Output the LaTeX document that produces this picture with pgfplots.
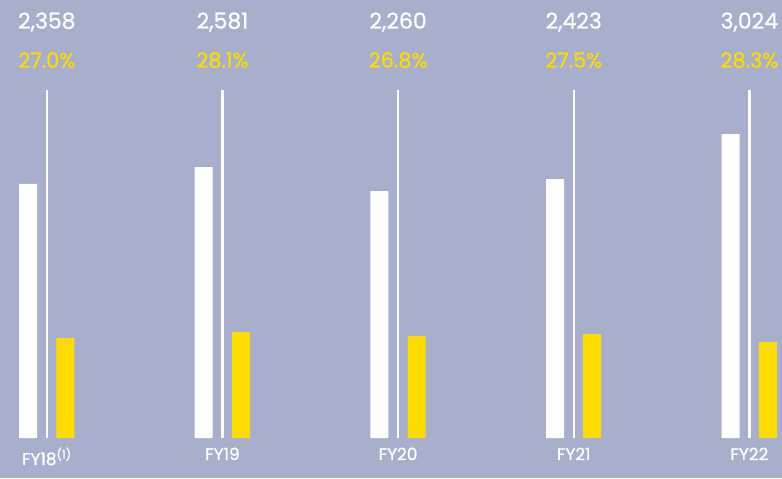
\documentclass[border=0pt]{standalone}
\usepackage{pgfplots}
\pgfplotsset{compat=1.18}
\usepackage{pgfplotstable}
\usepackage{fontspec}
\setmainfont{Poppins}[FakeBold=0.9]

\definecolor{bgblue}{HTML}{A7AFCD}
\definecolor{eyyellow}{HTML}{FFDC00}

% revenue (white bars) and margin labels; the yellow bars share the axis
\pgfplotstableread{
x  rev   margin  yel
0  2358  27.0    1337
1  2581  28.1    1417
2  2260  26.8    1363
3  2423  27.5    1390
4  3024  28.3    1283
}\fydata

\begin{document}
\begin{tikzpicture}
\fill[bgblue] (0,0) rectangle (782bp,478bp);
\begin{axis}[
  at={(0bp,40bp)}, anchor=south west,
  scale only axis, width=782bp, height=438bp,
  xmin=-0.2665, xmax=4.186,
  ymin=0, ymax=5855,
  clip=false,
  axis line style={draw=none},
  ytick=\empty,
  xtick={0,1,2,3,4},
  xticklabels={FY18\textsuperscript{(1)},FY19,FY20,FY21,FY22},
  major tick length=0pt,
  xticklabel style={text=white, font=\fontsize{17}{20}\selectfont, yshift=-6bp},
  ybar, bar width=18bp,
]
% baseline of the value scale sits at -1040
\addplot[fill=white, draw=none, bar shift=-18.7bp]
  table[x=x, y expr=\thisrow{rev}+1040] {\fydata};
\addplot[fill=eyyellow, draw=none, bar shift=18.5bp]
  table[x=x, y=yel] {\fydata};
% thin separators between the paired bars
\addplot[ycomb, draw=white, line width=2.4bp, no marks]
  coordinates {(0,4652) (1,4652) (2,4652) (3,4652) (4,4652)};

\foreach \i/\v/\p in {0/{2,358}/27.0, 1/{2,581}/28.1, 2/{2,260}/26.8, 3/{2,423}/27.5, 4/{3,024}/28.3} {
  \edef\tmp{\noexpand\node[text=white, font=\noexpand\fontsize{22}{24}\noexpand\selectfont] at (axis cs:\i,5561) {\v};
    \noexpand\node[text=eyyellow, font=\noexpand\fontsize{21}{24}\noexpand\selectfont] at (axis cs:\i,5053) {\p\noexpand\%};}
  \tmp
}
\end{axis}
\end{tikzpicture}
\end{document}
